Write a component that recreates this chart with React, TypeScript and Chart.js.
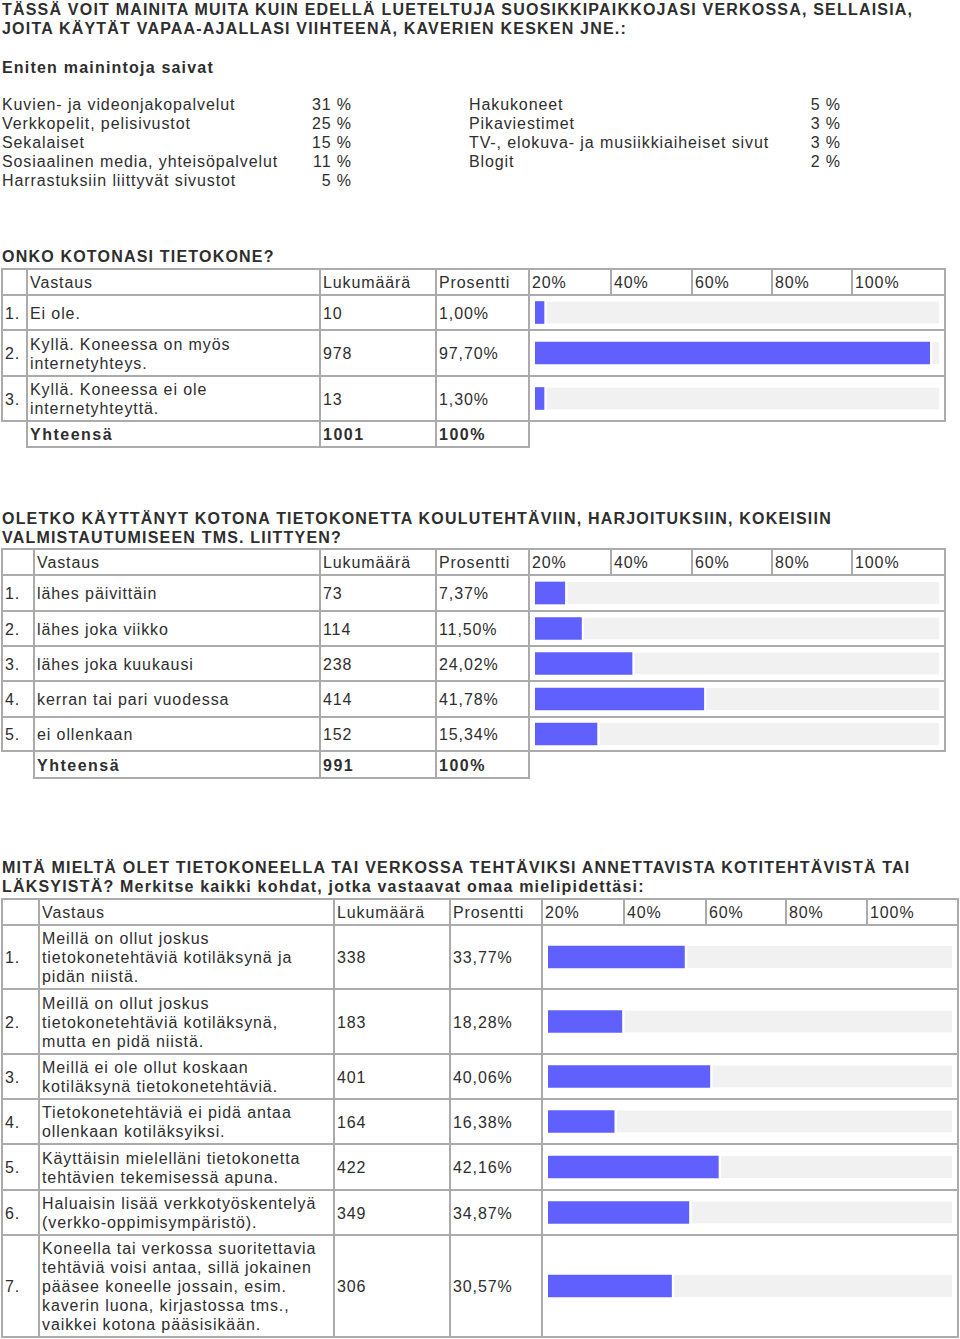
import React, { useEffect, useRef } from "react";
import { Chart, registerables } from "chart.js";

Chart.register(...registerables);

// ---------- DATA ----------
const introTitle = [
  "TÄSSÄ VOIT MAINITA MUITA KUIN EDELLÄ LUETELTUJA SUOSIKKIPAIKKOJASI VERKOSSA, SELLAISIA,",
  "JOITA KÄYTÄT VAPAA-AJALLASI VIIHTEENÄ, KAVERIEN KESKEN JNE.:",
];
const introSub = "Eniten mainintoja saivat";
const leftNames = [
  "Kuvien- ja videonjakopalvelut",
  "Verkkopelit, pelisivustot",
  "Sekalaiset",
  "Sosiaalinen media, yhteisöpalvelut",
  "Harrastuksiin liittyvät sivustot",
];
const leftPct = [31, 25, 15, 11, 5];
const rightNames = [
  "Hakukoneet",
  "Pikaviestimet",
  "TV-, elokuva- ja musiikkiaiheiset sivut",
  "Blogit",
];
const rightPct = [5, 3, 3, 2];

const headerLabels = ["Vastaus", "Lukumäärä", "Prosentti"];
const scaleLabels = ["20%", "40%", "60%", "80%", "100%"];
const totalLabel = "Yhteensä";

const q1Title = ["ONKO KOTONASI TIETOKONE?"];
const q1Answers = [
  ["Ei ole."],
  ["Kyllä. Koneessa on myös", "internetyhteys."],
  ["Kyllä. Koneessa ei ole", "internetyhteyttä."],
];
const q1Counts = [10, 978, 13];
const q1Pct = [1.0, 97.7, 1.3];
const q1Total = 1001;

const q2Title = [
  "OLETKO KÄYTTÄNYT KOTONA TIETOKONETTA KOULUTEHTÄVIIN, HARJOITUKSIIN, KOKEISIIN",
  "VALMISTAUTUMISEEN TMS. LIITTYEN?",
];
const q2Answers = [
  ["lähes päivittäin"],
  ["lähes joka viikko"],
  ["lähes joka kuukausi"],
  ["kerran tai pari vuodessa"],
  ["ei ollenkaan"],
];
const q2Counts = [73, 114, 238, 414, 152];
const q2Pct = [7.37, 11.5, 24.02, 41.78, 15.34];
const q2Total = 991;

const q3Title = [
  "MITÄ MIELTÄ OLET TIETOKONEELLA TAI VERKOSSA TEHTÄVIKSI ANNETTAVISTA KOTITEHTÄVISTÄ TAI",
  "LÄKSYISTÄ? Merkitse kaikki kohdat, jotka vastaavat omaa mielipidettäsi:",
];
const q3Answers = [
  ["Meillä on ollut joskus", "tietokonetehtäviä kotiläksynä ja", "pidän niistä."],
  ["Meillä on ollut joskus", "tietokonetehtäviä kotiläksynä,", "mutta en pidä niistä."],
  ["Meillä ei ole ollut koskaan", "kotiläksynä tietokonetehtäviä."],
  ["Tietokonetehtäviä ei pidä antaa", "ollenkaan kotiläksyiksi."],
  ["Käyttäisin mielelläni tietokonetta", "tehtävien tekemisessä apuna."],
  ["Haluaisin lisää verkkotyöskentelyä", "(verkko-oppimisympäristö)."],
  [
    "Koneella tai verkossa suoritettavia",
    "tehtäviä voisi antaa, sillä jokainen",
    "pääsee koneelle jossain, esim.",
    "kaverin luona, kirjastossa tms.,",
    "vaikkei kotona pääsisikään.",
  ],
];
const q3Counts = [338, 183, 401, 164, 422, 349, 306];
const q3Pct = [33.77, 18.28, 40.06, 16.38, 42.16, 34.87, 30.57];

// ---------- STYLE / LAYOUT ----------
const FONT = '"Liberation Sans", Arial, Helvetica, sans-serif';
const TEXT = "#2e2e2e";
const LINE = "#ababab";
const BLUE = "#6060ff";
const TRACK = "#f1f1f1";
const FS = 16;
const LS = "0.9px";
const LS_BOLD = "1.2px";
const LS_TOTAL = "1.5px";
const LH = 19;

const fmtPct = (v: number) => v.toFixed(2).replace(".", ",") + "%";

function BarChart({ value, width, height }: { value: number; width: number; height: number }) {
  const ref = useRef<HTMLCanvasElement | null>(null);
  useEffect(() => {
    if (!ref.current) return;
    const chart = new Chart(ref.current, {
      type: "bar",
      data: {
        labels: [""],
        datasets: [
          {
            data: [value],
            backgroundColor: BLUE,
            barThickness: 22,
            minBarLength: 9,
            stack: "s",
            borderWidth: 0,
          },
          {
            data: [100 - value],
            backgroundColor: TRACK,
            borderColor: "#ffffff",
            borderWidth: { left: 3, top: 0, right: 0, bottom: 0 },
            borderSkipped: false,
            barThickness: 22,
            stack: "s",
          },
        ],
      },
      options: {
        indexAxis: "y",
        responsive: false,
        maintainAspectRatio: false,
        animation: false,
        events: [],
        layout: { padding: 0 },
        plugins: { legend: { display: false }, tooltip: { enabled: false } },
        scales: {
          x: { display: false, min: 0, max: 100, stacked: true },
          y: { display: false, stacked: true },
        },
      },
    } as any);
    return () => chart.destroy();
  }, [value, width, height]);
  return (
    <canvas
      ref={ref}
      width={width}
      height={height}
      style={{ width, height, display: "block" }}
    />
  );
}

function Cell({
  x0,
  x1,
  y0,
  y1,
  children,
  bold,
}: {
  x0: number;
  x1: number;
  y0: number;
  y1: number;
  children?: React.ReactNode;
  bold?: boolean;
}) {
  return (
    <div
      style={{
        position: "absolute",
        left: x0 - 1,
        top: y0 - 1,
        width: x1 - x0 + 2,
        height: y1 - y0 + 2,
        border: `2px solid ${LINE}`,
        boxSizing: "border-box",
        display: "flex",
        alignItems: "center",
        paddingLeft: 2,
        paddingTop: 1,
        fontWeight: bold ? "bold" : "normal",
        letterSpacing: bold ? LS_TOTAL : LS,
        lineHeight: LH + "px",
        whiteSpace: "pre",
        overflow: "hidden",
      }}
    >
      <div>{children}</div>
    </div>
  );
}

function Lines({ lines }: { lines: string[] }) {
  return (
    <>
      {lines.map((l, i) => (
        <div key={i}>{l}</div>
      ))}
    </>
  );
}

function SurveyTable({
  cols,
  rows,
  answers,
  counts,
  pcts,
  total,
}: {
  cols: number[];
  rows: number[];
  answers: string[][];
  counts: number[];
  pcts: number[];
  total?: number;
}) {
  const els: React.ReactNode[] = [];
  const hy0 = rows[0];
  const hy1 = rows[1];
  els.push(<Cell key="h0" x0={cols[0]} x1={cols[1]} y0={hy0} y1={hy1} />);
  headerLabels.forEach((h, i) =>
    els.push(
      <Cell key={"h" + (i + 1)} x0={cols[i + 1]} x1={cols[i + 2]} y0={hy0} y1={hy1}>
        {h}
      </Cell>
    )
  );
  scaleLabels.forEach((s, i) =>
    els.push(
      <Cell key={"s" + i} x0={cols[i + 4]} x1={cols[i + 5]} y0={hy0} y1={hy1}>
        {s}
      </Cell>
    )
  );
  answers.forEach((a, r) => {
    const y0 = rows[r + 1];
    const y1 = rows[r + 2];
    els.push(
      <Cell key={"n" + r} x0={cols[0]} x1={cols[1]} y0={y0} y1={y1}>
        {r + 1 + "."}
      </Cell>
    );
    els.push(
      <Cell key={"a" + r} x0={cols[1]} x1={cols[2]} y0={y0} y1={y1}>
        <Lines lines={a} />
      </Cell>
    );
    els.push(
      <Cell key={"c" + r} x0={cols[2]} x1={cols[3]} y0={y0} y1={y1}>
        {String(counts[r])}
      </Cell>
    );
    els.push(
      <Cell key={"p" + r} x0={cols[3]} x1={cols[4]} y0={y0} y1={y1}>
        {fmtPct(pcts[r])}
      </Cell>
    );
    els.push(<Cell key={"b" + r} x0={cols[4]} x1={cols[9]} y0={y0} y1={y1} />);
    const w = cols[9] - cols[4] - 12;
    const h = y1 - y0 - 2;
    els.push(
      <div key={"bc" + r} style={{ position: "absolute", left: cols[4] + 6, top: y0 + 1 }}>
        <BarChart value={pcts[r]} width={w} height={h} />
      </div>
    );
  });
  if (total !== undefined) {
    const y0 = rows[answers.length + 1];
    const y1 = rows[answers.length + 2];
    els.push(
      <Cell key="t1" x0={cols[1]} x1={cols[2]} y0={y0} y1={y1} bold>
        {totalLabel}
      </Cell>
    );
    els.push(
      <Cell key="t2" x0={cols[2]} x1={cols[3]} y0={y0} y1={y1} bold>
        {String(total)}
      </Cell>
    );
    els.push(
      <Cell key="t3" x0={cols[3]} x1={cols[4]} y0={y0} y1={y1} bold>
        100%
      </Cell>
    );
  }
  return <>{els}</>;
}

function TextBlock({
  lines,
  x,
  yCenter,
  bold,
  align,
  width,
}: {
  lines: string[];
  x: number;
  yCenter: number;
  bold?: boolean;
  align?: "left" | "right";
  width?: number;
}) {
  return (
    <div
      style={{
        position: "absolute",
        left: align === "right" ? x - (width || 100) : x,
        width: align === "right" ? width || 100 : undefined,
        top: yCenter - LH / 2 + 0.5,
        lineHeight: LH + "px",
        fontWeight: bold ? "bold" : "normal",
        letterSpacing: bold ? LS_BOLD : LS,
        whiteSpace: "pre",
        textAlign: align || "left",
      }}
    >
      {lines.map((l, i) => (
        <div key={i}>{l}</div>
      ))}
    </div>
  );
}

export default function App() {
  const t1Cols = [2, 27, 320, 436, 529, 611, 692, 772, 852, 945];
  const t1Rows = [269, 295, 330, 376, 421, 447];
  const t2Cols = [2, 34, 320, 436, 529, 611, 692, 772, 852, 945];
  const t2Rows = [549, 575, 611, 646, 681, 717, 751, 778];
  const t3Cols = [2, 39, 334, 450, 542, 624, 706, 786, 867, 958];
  const t3Rows = [899, 925, 989, 1054, 1099, 1144, 1190, 1235, 1337];

  return (
    <div
      style={{
        position: "absolute",
        left: 0,
        top: 0,
        width: 960,
        height: 1339,
        background: "#ffffff",
        fontFamily: FONT,
        fontSize: FS,
        color: TEXT,
        overflow: "hidden",
      }}
    >
      <TextBlock lines={introTitle} x={2} yCenter={9} bold />
      <TextBlock lines={[introSub]} x={2} yCenter={67} bold />
      {leftNames.map((n, i) => (
        <TextBlock key={"ln" + i} lines={[n]} x={2} yCenter={104 + i * 19} />
      ))}
      {leftPct.map((p, i) => (
        <TextBlock key={"lp" + i} lines={[p + " %"]} x={352} yCenter={104 + i * 19} align="right" width={80} />
      ))}
      {rightNames.map((n, i) => (
        <TextBlock key={"rn" + i} lines={[n]} x={469} yCenter={104 + i * 19} />
      ))}
      {rightPct.map((p, i) => (
        <TextBlock key={"rp" + i} lines={[p + " %"]} x={841} yCenter={104 + i * 19} align="right" width={80} />
      ))}

      <TextBlock lines={q1Title} x={2} yCenter={256} bold />
      <SurveyTable cols={t1Cols} rows={t1Rows} answers={q1Answers} counts={q1Counts} pcts={q1Pct} total={q1Total} />

      <TextBlock lines={q2Title} x={2} yCenter={518} bold />
      <SurveyTable cols={t2Cols} rows={t2Rows} answers={q2Answers} counts={q2Counts} pcts={q2Pct} total={q2Total} />

      <TextBlock lines={q3Title} x={2} yCenter={867} bold />
      <SurveyTable cols={t3Cols} rows={t3Rows} answers={q3Answers} counts={q3Counts} pcts={q3Pct} />
    </div>
  );
}
